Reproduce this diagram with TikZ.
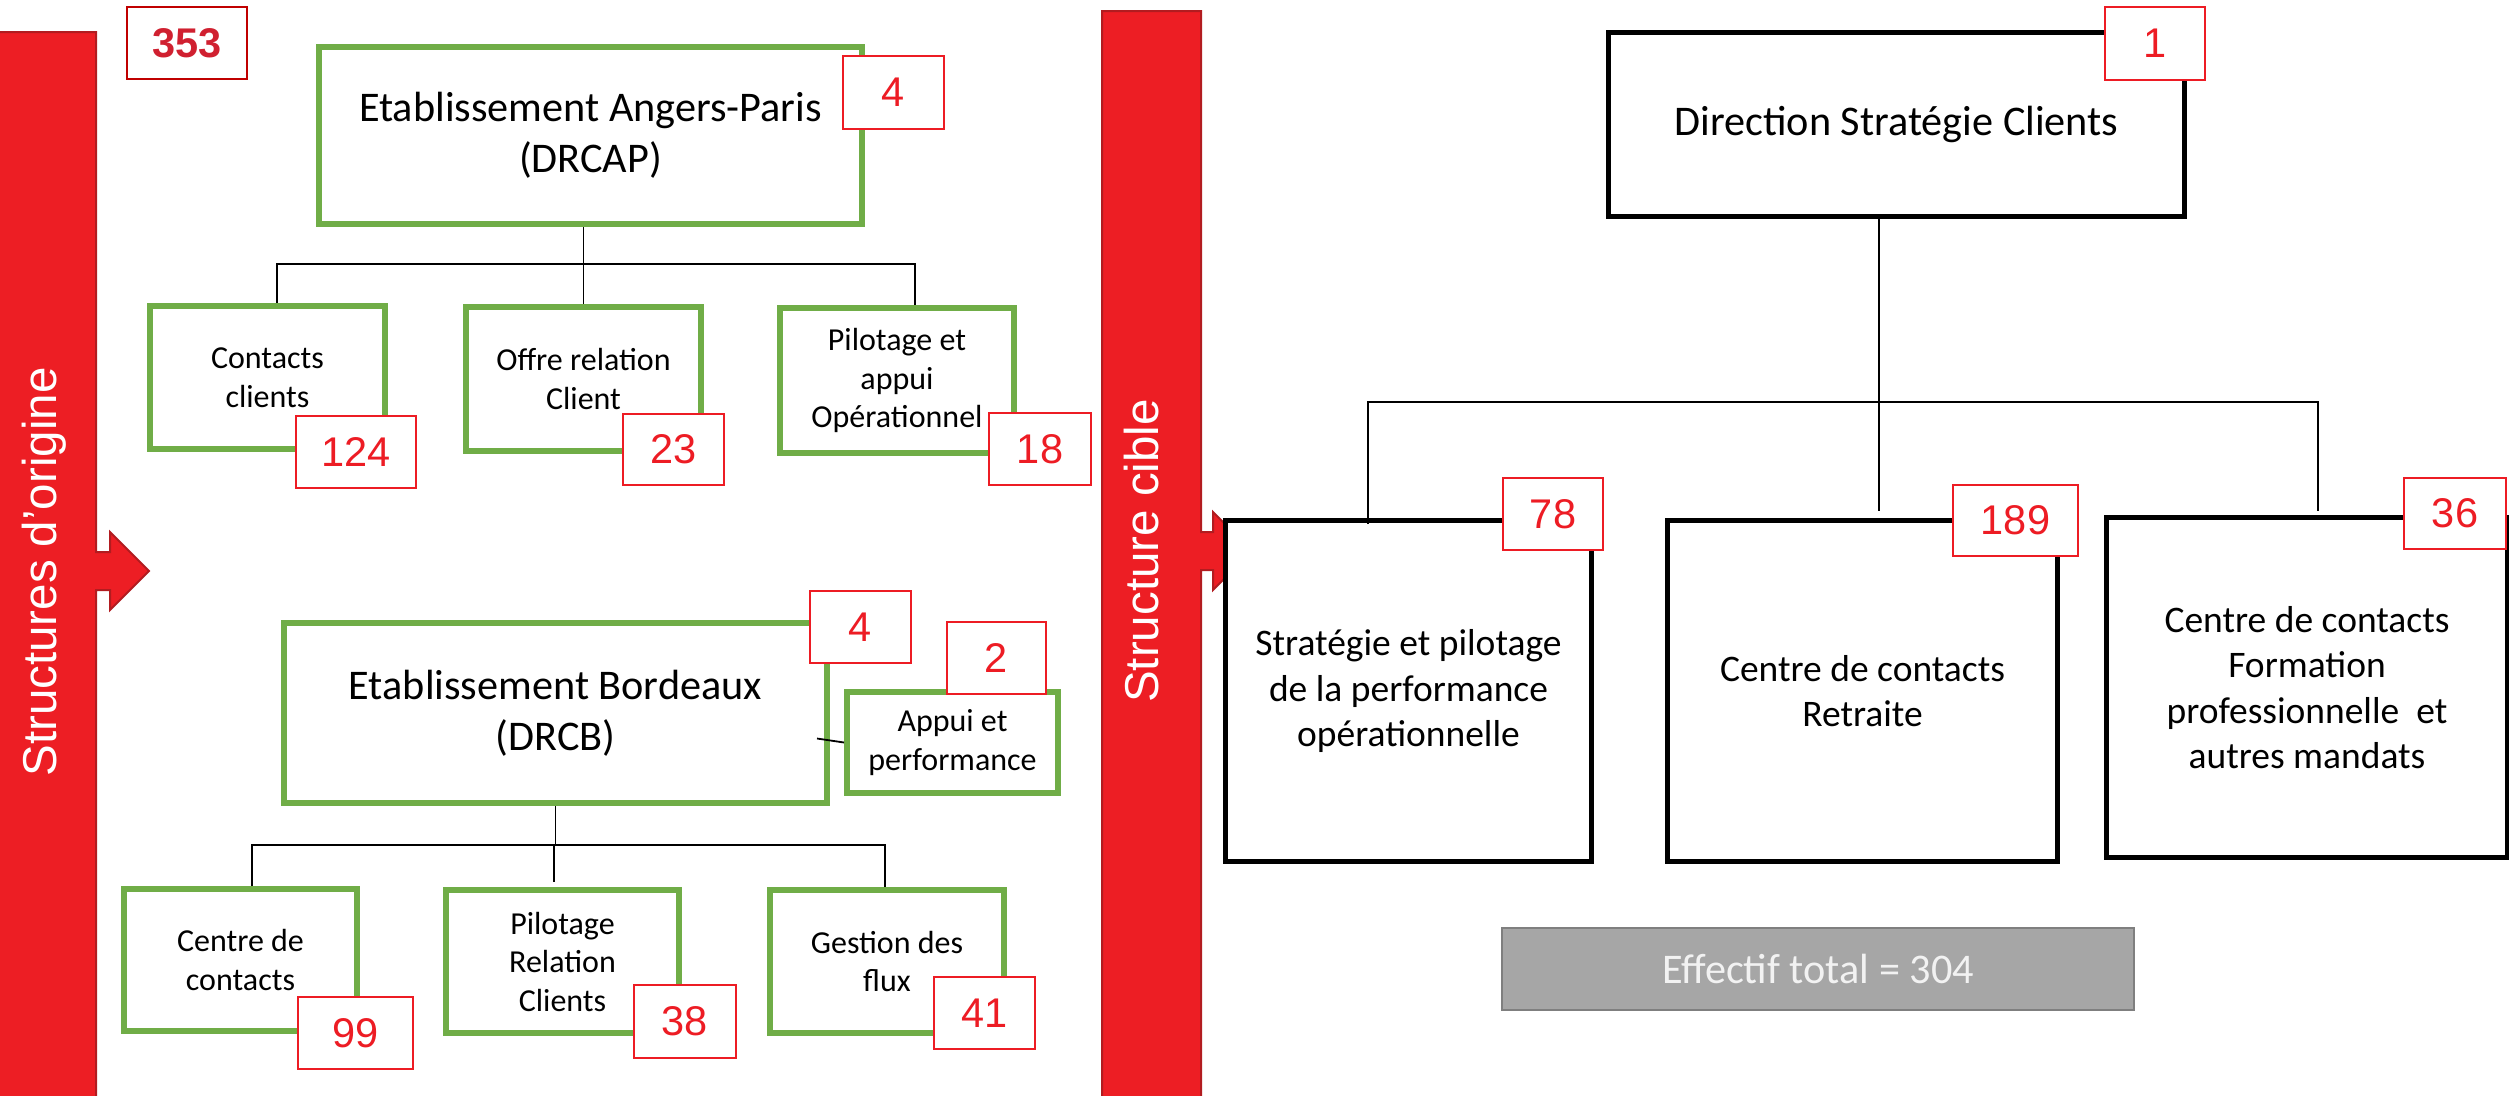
\documentclass[tikz,border=0pt]{standalone}
\usepackage{fontspec}
\setmainfont{Carlito}
\newfontfamily\arialf{Liberation Sans}
\usetikzlibrary{calc}
\definecolor{grn}{RGB}{112,173,71}
\definecolor{barred}{RGB}{237,30,36}
\definecolor{bardark}{RGB}{178,28,32}
\definecolor{numred}{RGB}{237,28,36}
\definecolor{darkred}{RGB}{192,0,0}
\definecolor{numdark}{RGB}{208,32,48}
\definecolor{greyfill}{RGB}{166,166,166}
\definecolor{greyline}{RGB}{127,127,127}
\definecolor{efftxt}{RGB}{242,242,242}
\def\pxu{0.4pt}
\tikzset{
  sz/.style 2 args={minimum width=#1*\pxu, minimum height=#2*\pxu},
  greenbox/.style={draw=grn, line width=6*\pxu, fill=white, inner sep=0pt, align=center},
  blackbox/.style={draw=black, line width=5*\pxu, fill=white, inner sep=0pt, align=center},
  bigtxt/.style={font=\fontsize{16.9}{20.4}\selectfont},
  smalltxt/.style={font=\fontsize{12.8}{15.4}\selectfont},
  midtxt/.style={font=\fontsize{15}{18.1}\selectfont},
  numbox/.style={draw=numred, line width=2*\pxu, fill=white, inner sep=0pt, text=numred, font=\arialf\fontsize{16.6}{20}\selectfont},
  bartxt/.style={text=white, inner sep=0pt, font=\arialf\fontsize{19}{22}\selectfont},
  bar/.style={fill=barred, draw=bardark, line width=2*\pxu},
  conn/.style={draw=black, line width=1.8*\pxu},
}
\begin{document}
\begin{tikzpicture}[x=0.4pt, y=-0.4pt]
\useasboundingbox (0,0) rectangle (2509,1095);
% red bars
\path[bar] (-5,32) -- (96,32) -- (96,552) -- (110,552) -- (110,532) -- (149,571) -- (110,610) -- (110,590) -- (96,590) -- (96,1110) -- (-5,1110) -- cycle;
\path[bar] (1102,11) -- (1201,11) -- (1201,532) -- (1213,532) -- (1213,512) -- (1252,551) -- (1213,590) -- (1213,570) -- (1201,570) -- (1201,1110) -- (1102,1110) -- cycle;
\node[bartxt, rotate=90] (lbar) at (44,572) {Structures d’origine};
\node[bartxt, rotate=90] (rbar) at (1142,551) {Structure cible};
% left: origin structures
\node[greenbox, bigtxt, sz={543}{177}] (drcap) at (590.5,135.5) {Etablissement Angers-Paris\\(DRCAP)};
\node[greenbox, smalltxt, sz={235}{143}] (c1) at (267.5,377.5) {Contacts\\clients};
\node[greenbox, smalltxt, sz={235}{144}] (c2) at (583.5,379) {Offre relation\\Client};
\node[greenbox, smalltxt, sz={234}{145}] (c3) at (897,380.5) {Pilotage et\\appui\\Opérationnel};
\node[greenbox, bigtxt, sz={543}{180}] (drcb) at (555.5,713) {Etablissement Bordeaux\\(DRCB)};
\node[greenbox, smalltxt, sz={211}{101}] (appui) at (952.5,742.5) {Appui et\\performance};
\node[greenbox, smalltxt, sz={233}{142}] (d1) at (240.5,960) {Centre de\\contacts};
\node[greenbox, smalltxt, sz={233}{143}] (d2) at (562.5,961.5) {Pilotage\\Relation\\Clients};
\node[greenbox, smalltxt, sz={234}{143}] (d3) at (887,961.5) {Gestion des\\flux};
% right: target structure
\node[blackbox, bigtxt, sz={576}{184}] (dsc) at (1896.5,124.5) {Direction Stratégie Clients};
\node[blackbox, midtxt, sz={366}{341}] (r1) at (1408.5,691) {Stratégie et pilotage\\de la performance\\opérationnelle};
\node[blackbox, midtxt, sz={390}{341}] (r2) at (1862.5,691) {Centre de contacts\\Retraite};
\node[blackbox, midtxt, sz={401}{340}] (r3) at (2307,687.5) {Centre de contacts\\Formation\\professionnelle\ \ et\\autres mandats};
\node[draw=greyline, fill=greyfill, line width=2*\pxu, inner sep=0pt, text=efftxt, font=\fontsize{16.9}{20.4}\selectfont, sz={632}{82}] (tot) at (1818,969) {Effectif total = 304};
% connectors
\coordinate (ha) at (0,264);
\coordinate (hb) at (0,845);
\coordinate (hc) at (0,402);
\draw[conn] (drcap.south -| c2.north) -- (c2.north);
\draw[conn] ($(c1.north)+(9.5,0)$) |- ($(c3.north |- ha)+(18,0)$) -- ($(c3.north)+(18,0)$);
\draw[conn] (drcb.south) -- (drcb.south |- hb);
\draw[conn] ($(d1.north)+(11.5,0)$) |- ($(d3.north |- hb)+(-2,0)$) -- ($(d3.north)+(-2,0)$);
\draw[conn] ($(d2.north |- hb)+(-8.5,0)$) -- ($(d2.north)+(-8.5,-5)$);
\draw[conn] (appui.west) -- ++(-27,-4);
\draw[conn] ($(dsc.south)+(-17.5,0)$) -- ($(r2.north)+(16.5,-7)$);
\draw[conn] ($(r1.north)+(-40.5,6)$) |- ($(r3.north |- hc)+(11,0)$) -- ($(r3.north)+(11,-4)$);
% number boxes
\node[numbox, draw=darkred, text=numdark, font=\arialf\bfseries\fontsize{16.6}{20}\selectfont, sz={120}{72}] (n353) at (187,43) {353};
\node[numbox, sz={101}{73}] (na4) at (893.5,92.5) {4};
\node[numbox, sz={120}{72}] (n124) at (356,452) {124};
\node[numbox, sz={101}{71}] (n23) at (673.5,449.5) {23};
\node[numbox, sz={102}{72}] (n18) at (1040,449) {18};
\node[numbox, sz={101}{72}] (nb4) at (860.5,627) {4};
\node[numbox, sz={99}{72}] (n2) at (996.5,658) {2};
\node[numbox, sz={115}{72}] (n99) at (355.5,1033) {99};
\node[numbox, sz={102}{73}] (n38) at (685,1021.5) {38};
\node[numbox, sz={101}{72}] (n41) at (984.5,1013) {41};
\node[numbox, sz={100}{73}] (n1) at (2155,43.5) {1};
\node[numbox, sz={100}{72}] (n78) at (1553,514) {78};
\node[numbox, sz={125}{71}] (n189) at (2015.5,520.5) {189};
\node[numbox, sz={102}{71}] (n36) at (2455,513.5) {36};
\end{tikzpicture}
\end{document}
